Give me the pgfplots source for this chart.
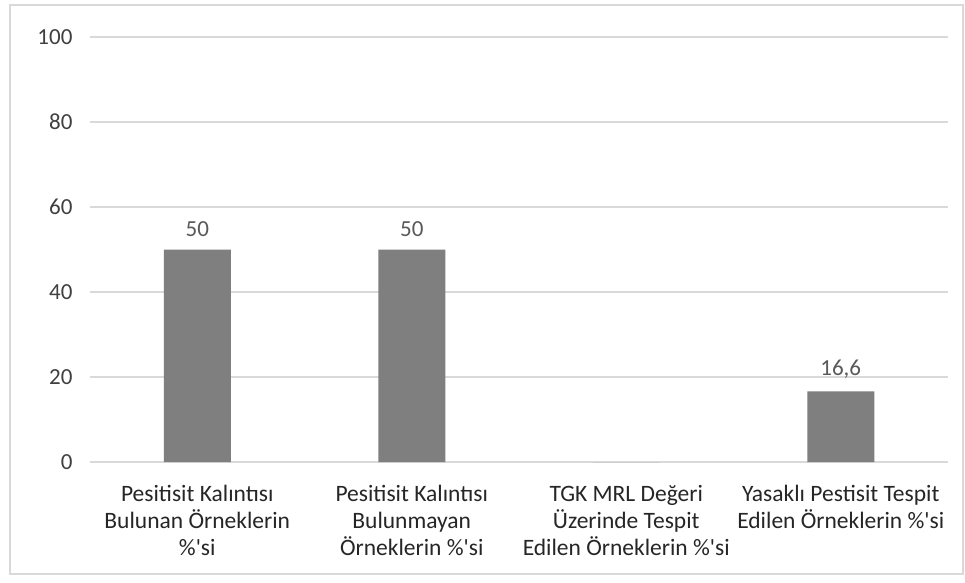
\documentclass[border=0pt]{standalone}
\usepackage{pgfplots}
\pgfplotsset{compat=1.18}
\usepackage{fontspec}
\setmainfont{Carlito}
\definecolor{barfill}{HTML}{7F7F7F}
\definecolor{gridc}{HTML}{D9D9D9}
\definecolor{tickc}{HTML}{404040}
\definecolor{labc}{HTML}{262626}
\definecolor{valc}{HTML}{595959}
\begin{document}
\begin{tikzpicture}[x=1pt,y=1pt]
\fill[white] (-90,-120) rectangle (875,462);
\draw[gridc, line width=1.2pt] (-80,-112) rectangle (873,457);
\begin{axis}[
  at={(0,0)}, anchor=south west,
  scale only axis, width=858pt, height=425pt,
  ymin=0, ymax=100, ytick={0,20,...,100},
  xmin=-0.5, xmax=3.5,
  xtick=data,
  xticklabels={{Pesitisit Kalıntısı\\Bulunan Örneklerin\\\%\textquotesingle si},{Pesitisit Kalıntısı\\Bulunmayan\\Örneklerin \%\textquotesingle si},{TGK MRL Değeri\\Üzerinde Tespit\\Edilen Örneklerin \%\textquotesingle si},{Yasaklı Pestisit Tespit\\Edilen Örneklerin \%\textquotesingle si}},
  xticklabel style={align=center, font=\fontsize{23.5}{27}\selectfont, text=labc, yshift=-20pt},
  yticklabel style={font=\fontsize{23}{26}\selectfont, text=tickc, xshift=-14pt},
  /pgf/number format/assume math mode=true,
  axis x line*=bottom,
  axis y line*=left,
  y axis line style={draw=none},
  x axis line style={gridc, line width=1.2pt, -},
  major tick length=0pt,
  ymajorgrids, grid style={gridc, line width=1.2pt},
  ybar, bar width=67pt,
  nodes near coords={\pgfmathfloatifflags{\pgfplotspointmeta}{0}{}{\pgfmathprintnumber[use comma]{\pgfplotspointmeta}}},
  every node near coord/.append style={font=\fontsize{23}{26}\selectfont, text=valc, yshift=9pt},
  clip=false,
]
\addplot[fill=barfill, draw=none] coordinates {(0,50) (1,50) (2,0) (3,16.6)};
\end{axis}
\end{tikzpicture}
\end{document}
